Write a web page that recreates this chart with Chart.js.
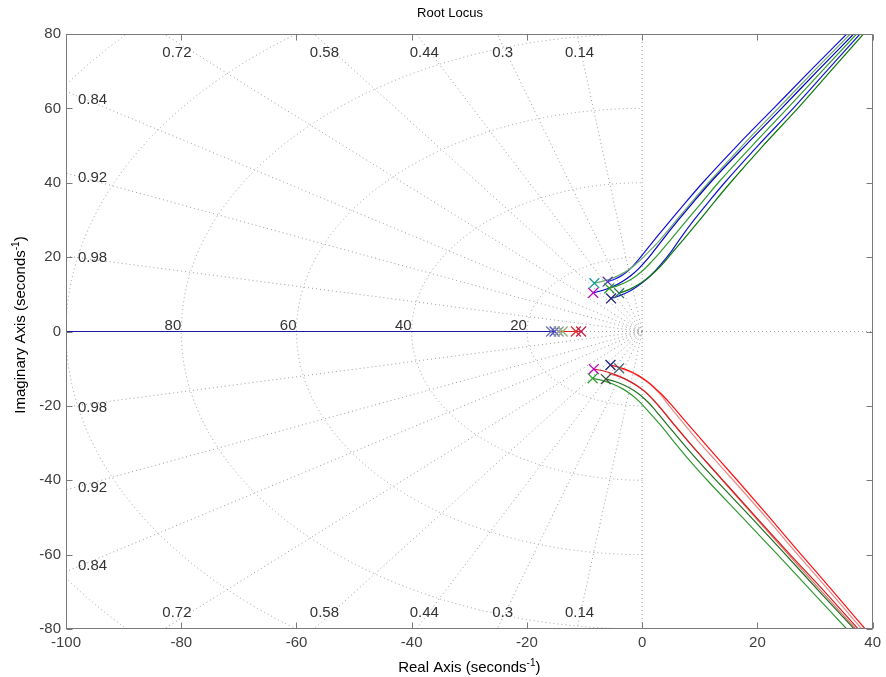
<!DOCTYPE html>
<html>
<head>
<meta charset="utf-8">
<title>Root Locus</title>
<script src="https://cdn.jsdelivr.net/npm/chart.js@4.4.1/dist/chart.umd.min.js"></script>
<style>
  html, body { margin: 0; padding: 0; background: #fff; }
  canvas { display: block; }
</style>
</head>
<body>
<canvas id="myChart" width="886" height="677"></canvas>
<script>
// sgrid: damping ratios and natural frequencies
const zeta_values = [0.14, 0.3, 0.44, 0.58, 0.72, 0.84, 0.92, 0.98];
const wn_values = [20, 40, 60, 80, 100, 120];

const x_range = [-100, 40];
const y_range = [-80, 80];
const tick_step = 20;

// open-loop poles of each system (re, im)
const pole_re = [-8.3, -8.5, -6.0, -5.7, -5.4, -4.0, -8.4, -5.5, -4.0, -8.6, -6.3, -15.8, -15.2, -14.5, -13.8, -11.5, -10.6];
const pole_im = [13.0, 10.4, 13.4, 11.6, 8.9, 10.3, -10.1, -9.0, -9.9, -12.6, -12.8, 0, 0, 0, 0, 0, 0];
const pole_colors = ['#109c9c', '#c000c0', '#5a3ab8', '#2a9a2a', '#202070', '#2f6f5f',
                     '#c000c0', '#202070', '#40606a', '#30a030', '#405040',
                     '#7070b0', '#5050c0', '#9090a8', '#90b070', '#e03030', '#c02050'];

// branches leaving the upper complex poles
const up_1 = [[-6.0,13.4],[-4.6,14.2],[-3.4,15.2],[-2.4,16.4],[-1.5,17.8],[-0.6,19.4],[2.3,25],[5.0,30],[7.7,35],[10.5,40],[16.5,50],[22.8,60],[29.1,70],[35.5,80]];
const up_2 = [[-8.3,13.0],[-6.6,13.6],[-4.9,14.5],[-3.3,15.7],[-1.8,17.2],[-0.4,19.1],[1.0,21.2],[3.3,25],[6.0,30],[8.7,35],[11.5,40],[17.4,50],[23.6,60],[29.8,70],[36.1,80]];
const up_3 = [[-8.5,10.4],[-6.8,11.1],[-5.1,12.1],[-3.5,13.4],[-2.0,15.0],[-0.6,16.9],[0.7,19.1],[2.0,21.6],[3.7,25],[6.3,30],[9.0,35],[11.8,40],[17.9,50],[24.2,60],[30.4,70],[36.7,80]];
const up_4 = [[-5.7,11.6],[-4.1,12.4],[-2.5,13.5],[-1.0,15.0],[0.4,16.8],[1.7,18.9],[3.1,21.3],[5.1,25],[7.8,30],[10.5,35],[13.2,40],[19.1,50],[25.2,60],[31.2,70],[37.2,80]];
const up_5 = [[-5.4,8.9],[-3.8,9.7],[-2.2,10.8],[-0.7,12.3],[0.8,14.1],[2.2,16.2],[3.5,18.5],[4.9,21.2],[6.6,25],[9.0,30],[11.6,35],[14.3,40],[20.1,50],[26.2,60],[32.0,70],[37.8,80]];
const up_6 = [[-4.0,10.3],[-2.4,11.2],[-0.8,12.5],[0.8,14.2],[2.3,16.2],[3.7,18.4],[5.0,20.8],[7.3,25],[10.0,30],[12.6,35],[15.3,40],[21.0,50],[27.0,60],[32.7,70],[38.4,80]];

// branches leaving the lower complex poles
const down_1 = [[-5.5,-9.0],[-3.8,-9.7],[-2.1,-10.7],[-0.5,-12.0],[1.0,-13.6],[2.4,-15.5],[3.7,-17.4],[5.0,-19.6],[7.6,-24.3],[10.4,-29.3],[13.4,-34.6],[16.5,-40],[22.1,-50],[27.6,-60],[33.2,-70],[38.7,-80]];
const down_2 = [[-4.0,-9.9],[-2.4,-10.7],[-0.8,-11.9],[0.7,-13.4],[2.1,-15.2],[3.3,-17.2],[4.4,-19.4],[7.0,-24.4],[9.8,-29.6],[12.8,-34.8],[15.8,-40],[21.5,-50],[27.0,-60],[32.6,-70],[38.1,-80]];
const down_3 = [[-8.4,-10.1],[-6.5,-10.7],[-4.7,-11.6],[-2.9,-12.8],[-1.2,-14.3],[0.4,-16.1],[1.8,-18.2],[3.1,-20.5],[5.7,-25.4],[8.5,-30.5],[11.4,-35.5],[14.3,-40.5],[20.0,-50.3],[25.8,-60.2],[31.7,-70],[37.5,-80]];
const down_4 = [[-6.3,-12.8],[-4.6,-13.5],[-3.0,-14.5],[-1.5,-15.8],[-0.1,-17.4],[1.2,-19.3],[2.4,-21.4],[4.8,-25.9],[7.5,-30.9],[10.3,-35.8],[13.0,-40.3],[18.9,-50],[24.9,-60],[30.8,-70],[36.8,-80]];
const down_5 = [[-5.8,-11.4],[-4.1,-12.1],[-2.5,-13.1],[-1.0,-14.4],[0.4,-16.0],[1.7,-17.9],[2.9,-20.0],[5.4,-24.7],[8.1,-29.7],[10.9,-34.7],[13.8,-39.8],[19.6,-50],[25.4,-60],[31.2,-70],[37.1,-80]];
const down_6 = [[-8.6,-12.6],[-6.8,-13.2],[-5.0,-14.2],[-3.3,-15.5],[-1.8,-17.1],[-0.4,-19.0],[0.8,-21.0],[3.1,-25],[5.7,-30],[8.4,-35],[11.3,-40],[17.4,-50],[23.5,-60],[29.5,-70],[35.5,-80]];

// real-axis branches
const real_blue = [[-100,0],[-15.2,0]];
const real_red = [[-14.2,0],[-10.6,0]];

const FONT = 'Liberation Sans, Arial, Helvetica, sans-serif';

function to_points(arr) {
  return arr.map(p => ({x: p[0], y: p[1]}));
}

function branch(arr, color) {
  return {
    data: to_points(arr),
    showLine: true,
    borderColor: color,
    borderWidth: 1.2,
    pointRadius: 0,
    cubicInterpolationMode: 'monotone',
    fill: false
  };
}

// first dataset is drawn on top
const datasets = [
  {
    data: pole_re.map((re, i) => ({x: re, y: pole_im[i]})),
    showLine: false,
    pointStyle: 'crossRot',
    pointRadius: 7,
    pointBorderWidth: 1.3,
    pointBorderColor: pole_colors,
    pointBackgroundColor: pole_colors
  },
  branch(real_blue, '#1a1aa8'),
  branch(real_red, '#e02020'),
  branch(up_6, '#0a7a0a'),
  branch(up_5, '#1515d0'),
  branch(up_4, '#2e9a2e'),
  branch(up_3, '#0000c8'),
  branch(up_2, '#6aaa6a'),
  branch(up_1, '#1010e0'),
  branch(down_1, '#ff1010'),
  branch(down_2, '#e88a8a'),
  branch(down_3, '#d02020'),
  branch(down_4, '#1f6f1f'),
  branch(down_5, '#e07070'),
  branch(down_6, '#2e9a2e')
];

const sgrid_plugin = {
  id: 'sgrid',
  beforeDatasetsDraw(chart) {
    const {ctx, chartArea: a, scales: {x, y}} = chart;
    const x0 = x.getPixelForValue(0), y0 = y.getPixelForValue(0);
    ctx.save();
    ctx.beginPath();
    ctx.rect(a.left, a.top, a.right - a.left, a.bottom - a.top);
    ctx.clip();
    ctx.strokeStyle = '#9c9c9c';
    ctx.lineWidth = 1;
    ctx.setLineDash([1, 3]);
    // constant damping rays
    zeta_values.forEach(z => {
      const s = Math.sqrt(1 - z * z), r = 500;
      [1, -1].forEach(sign => {
        ctx.beginPath();
        ctx.moveTo(x0, y0);
        ctx.lineTo(x.getPixelForValue(-r * z), y.getPixelForValue(sign * r * s));
        ctx.stroke();
      });
    });
    // constant natural frequency arcs
    wn_values.forEach(w => {
      const rx = x0 - x.getPixelForValue(-w);
      const ry = y.getPixelForValue(-w) - y0;
      ctx.beginPath();
      ctx.ellipse(x0, y0, rx, ry, 0, Math.PI / 2, Math.PI * 1.5);
      ctx.stroke();
    });
    ctx.beginPath();
    ctx.moveTo(a.left, y0); ctx.lineTo(a.right, y0);
    ctx.moveTo(x0, a.top); ctx.lineTo(x0, a.bottom);
    ctx.stroke();
    ctx.restore();

    // grid labels
    ctx.save();
    ctx.fillStyle = '#333';
    ctx.font = '15px ' + FONT;
    ctx.textBaseline = 'alphabetic';
    zeta_values.forEach(z => {
      const s = Math.sqrt(1 - z * z);
      const x_top = -y_range[1] * z / s;
      if (x_top >= x_range[0]) {
        const px = x.getPixelForValue(x_top) + 18 * z;
        ctx.textAlign = 'center';
        ctx.fillText(String(z), px, a.top + 23);
        ctx.fillText(String(z), px, a.bottom - 12);
      } else {
        const y_edge = -x_range[0] * s / z;
        const d = (0.99 - z) * 45;
        ctx.textAlign = 'left';
        ctx.fillText(String(z), a.left + 12, y.getPixelForValue(y_edge) + d + 5.5);
        ctx.fillText(String(z), a.left + 12, y.getPixelForValue(-y_edge) - d + 5.5);
      }
    });
    ctx.textAlign = 'right';
    wn_values.filter(w => w < -x_range[0]).forEach(w => {
      ctx.fillText(String(w), x.getPixelForValue(-w), y0 - 2);
    });
    ctx.restore();
  },
  afterDatasetsDraw(chart) {
    // box with inward tick marks on all sides
    const {ctx, chartArea: a, scales: {x, y}} = chart;
    const L = Math.round(a.left) + 0.5, R = Math.round(a.right) - 0.5;
    const T = Math.round(a.top) + 0.5, B = Math.round(a.bottom) - 0.5;
    ctx.save();
    ctx.strokeStyle = '#7a7a7a';
    ctx.lineWidth = 1;
    ctx.strokeRect(L, T, R - L, B - T);
    ctx.beginPath();
    for (let v = x_range[0]; v <= x_range[1]; v += tick_step) {
      const px = Math.round(x.getPixelForValue(v)) + 0.5;
      ctx.moveTo(px, B); ctx.lineTo(px, B - 6);
      ctx.moveTo(px, T); ctx.lineTo(px, T + 6);
    }
    for (let v = y_range[0]; v <= y_range[1]; v += tick_step) {
      const py = Math.round(y.getPixelForValue(v)) + 0.5;
      ctx.moveTo(L, py); ctx.lineTo(L + 6, py);
      ctx.moveTo(R, py); ctx.lineTo(R - 6, py);
    }
    ctx.stroke();
    ctx.restore();
  },
  afterDraw(chart) {
    const {ctx, chartArea: a} = chart;
    ctx.save();
    ctx.fillStyle = '#000';
    ctx.textBaseline = 'alphabetic';
    ctx.textAlign = 'center';
    ctx.font = '13px ' + FONT;
    ctx.fillText('Root Locus', 450, 17);
    draw_unit_label(ctx, 'Real Axis (seconds', '-1', ')', (a.left + a.right) / 2, 672);
    ctx.translate(24.5, 325);
    ctx.rotate(-Math.PI / 2);
    draw_unit_label(ctx, 'Imaginary Axis (seconds', '-1', ')', 0, 0);
    ctx.restore();
  }
};

// axis label with a raised exponent
function draw_unit_label(ctx, main, sup, tail, cx, base) {
  const big = '15px ' + FONT, small = '10px ' + FONT;
  ctx.font = big;
  const w1 = ctx.measureText(main).width, w3 = ctx.measureText(tail).width;
  ctx.font = small;
  const w2 = ctx.measureText(sup).width;
  let px = cx - (w1 + w2 + w3) / 2;
  ctx.textAlign = 'left';
  ctx.font = big;
  ctx.fillText(main, px, base);
  px += w1;
  ctx.font = small;
  ctx.fillText(sup, px, base - 6);
  px += w2;
  ctx.font = big;
  ctx.fillText(tail, px, base);
  ctx.textAlign = 'center';
}

const config = {
  type: 'scatter',
  data: {datasets: datasets},
  options: {
    responsive: false,
    animation: false,
    devicePixelRatio: 1,
    events: [],
    layout: {padding: {left: 0, right: 10, top: 34, bottom: 0}},
    plugins: {
      legend: {display: false},
      tooltip: {enabled: false}
    },
    scales: {
      x: {
        type: 'linear',
        min: x_range[0],
        max: x_range[1],
        afterFit: s => { s.height = 48; },
        ticks: {stepSize: tick_step, padding: 5, color: '#404040', font: {family: FONT, size: 15}},
        grid: {display: false, drawTicks: false},
        border: {display: false}
      },
      y: {
        type: 'linear',
        min: y_range[0],
        max: y_range[1],
        afterFit: s => { s.width = 66; },
        ticks: {stepSize: tick_step, padding: 5, color: '#404040', font: {family: FONT, size: 15}},
        grid: {display: false, drawTicks: false},
        border: {display: false}
      }
    }
  },
  plugins: [sgrid_plugin]
};

const myChart = new Chart(document.getElementById('myChart'), config);
</script>
</body>
</html>
